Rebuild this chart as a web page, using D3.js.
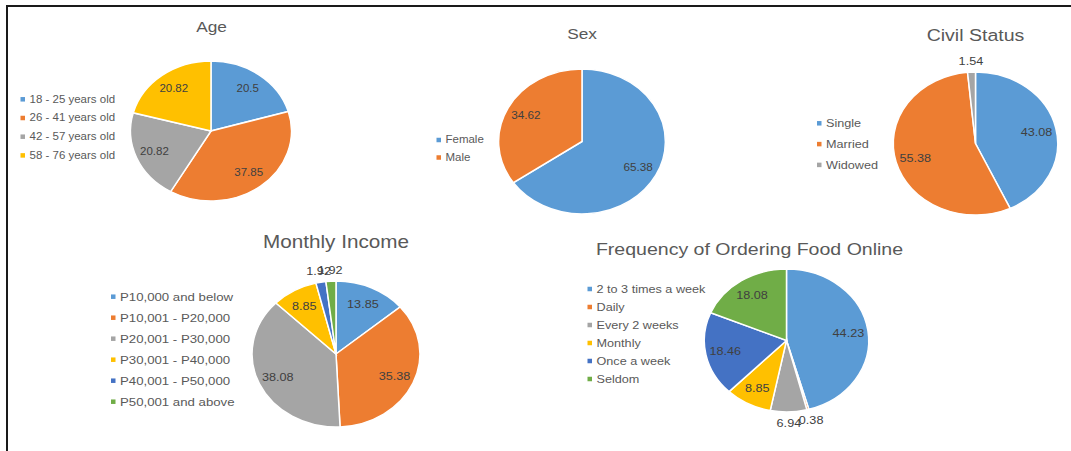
<!DOCTYPE html>
<html>
<head>
<meta charset="utf-8">
<script src="https://cdn.jsdelivr.net/npm/d3@7"></script>
<style>
  body { margin: 0; background: #fff; }
  svg { display: block; font-family: "Liberation Sans", Arial, Helvetica, sans-serif; }
</style>
</head>
<body>
<script>
// values (percent)
const ageLabels = ["18 - 25 years old", "26 - 41 years old", "42 - 57 years old", "58 - 76 years old"];
const ageValues = [20.5, 37.85, 20.82, 20.82];

const sexLabels = ["Female", "Male"];
const sexValues = [65.38, 34.62];

const civilLabels = ["Single", "Married", "Widowed"];
const civilValues = [43.08, 55.38, 1.54];

const incomeLabels = ["P10,000 and below", "P10,001 - P20,000", "P20,001 - P30,000", "P30,001 - P40,000", "P40,001 - P50,000", "P50,001 and above"];
const incomeValues = [13.85, 35.38, 38.08, 8.85, 1.92, 1.92];

const freqLabels = ["2 to 3 times a week", "Daily", "Every 2 weeks", "Monthly", "Once a week", "Seldom"];
const freqValues = [44.23, 0.38, 6.94, 8.85, 18.46, 18.08];

const colors = ["#5B9BD5", "#ED7D31", "#A5A5A5", "#FFC000", "#4472C4", "#70AD47"];

// the original picture is stretched sideways, so everything is drawn in a scaled group
const SX = 1.15;

const svg = d3.select("body").append("svg")
    .attr("width", 1071)
    .attr("height", 451);

svg.append("rect")
    .attr("width", 1071)
    .attr("height", 451)
    .attr("fill", "#fff");

const g = svg.append("g")
    .attr("transform", "scale(" + SX + ",1)");

function drawPie(opt) {
  const pie = d3.pie().sort(null).value(d => d);
  const arcs = pie(opt.values);
  const total = d3.sum(opt.values);
  const r = opt.r;
  const arc = d3.arc().innerRadius(0).outerRadius(r);

  const chart = g.append("g");

  const slices = chart.append("g")
      .attr("transform", "translate(" + (opt.cx / SX) + "," + opt.cy + ")");

  slices.selectAll("path")
    .data(arcs)
    .join("path")
      .attr("d", arc)
      .attr("fill", (d, i) => colors[i])
      .attr("stroke", "#fff")
      .attr("stroke-width", 1.5)
      .attr("vector-effect", "non-scaling-stroke");

  // data labels: small slices go outside the pie
  slices.selectAll("text")
    .data(arcs)
    .join("text")
      .attr("x", d => {
        const a = (d.startAngle + d.endAngle) / 2;
        const rr = d.value / total < 0.08 ? r + 11 : r * 0.76;
        return Math.sin(a) * rr;
      })
      .attr("y", d => {
        const a = (d.startAngle + d.endAngle) / 2;
        const rr = d.value / total < 0.08 ? r + 11 : r * 0.76;
        return -Math.cos(a) * rr;
      })
      .attr("dy", "0.35em")
      .attr("text-anchor", "middle")
      .attr("font-size", opt.labelSize)
      .attr("fill", "#404040")
      .text(d => d.value);

  chart.append("text")
      .attr("x", opt.titleX / SX)
      .attr("y", opt.titleY)
      .attr("text-anchor", "middle")
      .attr("font-size", opt.titleSize)
      .attr("fill", "#595959")
      .text(opt.title);

  const legend = chart.append("g");
  opt.labels.forEach((name, i) => {
    const y = opt.legendY + i * opt.legendStep;
    legend.append("rect")
        .attr("x", opt.legendX / SX)
        .attr("y", y - 2.25)
        .attr("width", 4.5 / SX)
        .attr("height", 4.5)
        .attr("fill", colors[i]);
    legend.append("text")
        .attr("x", (opt.legendX + 9) / SX)
        .attr("y", y)
        .attr("dy", "0.35em")
        .attr("font-size", opt.legendSize)
        .attr("fill", "#595959")
        .text(name);
  });
}

drawPie({ title: "Age", labels: ageLabels, values: ageValues,
  cx: 211, cy: 131, r: 70, titleX: 211.5, titleY: 32.5, titleSize: 15,
  labelSize: 10, legendX: 20.5, legendY: 99.3, legendStep: 18.7, legendSize: 10 });

drawPie({ title: "Sex", labels: sexLabels, values: sexValues,
  cx: 582, cy: 141.5, r: 72.5, titleX: 582, titleY: 39.5, titleSize: 15,
  labelSize: 10.2, legendX: 436.5, legendY: 140, legendStep: 17.5, legendSize: 10 });

drawPie({ title: "Civil Status", labels: civilLabels, values: civilValues,
  cx: 975.5, cy: 143.5, r: 71.5, titleX: 975.5, titleY: 41.5, titleSize: 17,
  labelSize: 11, legendX: 817, legendY: 123.3, legendStep: 20.8, legendSize: 11 });

drawPie({ title: "Monthly Income", labels: incomeLabels, values: incomeValues,
  cx: 336, cy: 354, r: 73, titleX: 336, titleY: 248, titleSize: 18,
  labelSize: 11, legendX: 111, legendY: 296.7, legendStep: 21, legendSize: 11.5 });

drawPie({ title: "Frequency of Ordering Food Online", labels: freqLabels, values: freqValues,
  cx: 786.5, cy: 340.5, r: 71.5, titleX: 749.5, titleY: 255, titleSize: 17,
  labelSize: 11, legendX: 587.5, legendY: 289, legendStep: 18, legendSize: 11 });

// frame: top and left edges only
svg.append("path")
    .attr("d", "M7,451V6H1071")
    .attr("fill", "none")
    .attr("stroke", "#1a1a1a")
    .attr("stroke-width", 2);
</script>
</body>
</html>
